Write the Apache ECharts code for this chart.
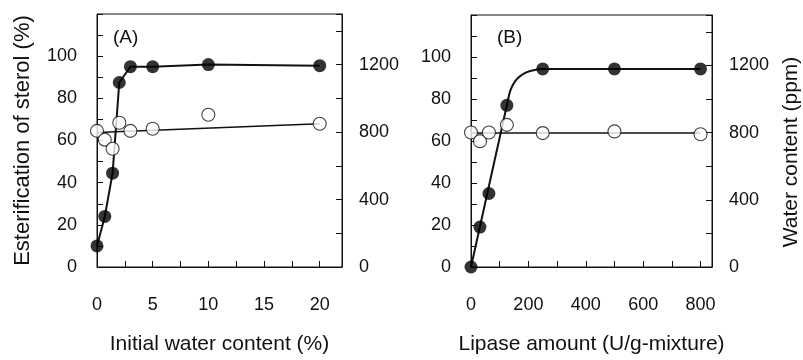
<!DOCTYPE html>
<html>
<head>
<meta charset="utf-8">
<script src="https://cdn.jsdelivr.net/npm/echarts@6/dist/echarts.min.js"></script>
<style>
  html, body { margin: 0; padding: 0; background: #fff; }
  #chart { width: 803px; height: 360px; }
</style>
</head>
<body>
<div id="chart"></div>
<script>
// Panel A: initial water content (%)
const waterPctA = [0, 0.7, 1.4, 2, 3, 5, 10, 20];
const esterA = [10, 24, 44.5, 87.5, 95, 95, 96, 95.5];
const ppmA = [807, 755, 701, 855, 807, 820, 903, 849];
const fitXA = [0, 20];
const fitPpmA = [797, 850];

// Panel B: lipase amount (U/g-mixture)
const lipaseB = [0, 31.25, 62.5, 125, 250, 500, 800];
const esterB = [0, 19, 35, 77, 94.3, 94.3, 94.3];
const ppmB = [801, 749, 801, 846, 797, 807, 790];
const fitXB = [0, 800];
const fitPpmB = [797, 797];
// fitted esterification curve in B
const curveXB = [0, 125, 137, 154, 177, 206, 250, 800];
const curveEsterB = [0, 77, 84, 88.5, 91.5, 93.3, 94.3, 94.3];

const pairs = (xs, ys) => xs.map((x, i) => [x, ys[i]]);

const FONT = 'Liberation Sans';
const INK = '#111';

const chart = echarts.init(document.getElementById('chart'));

const yLeft = (grid, name) => ({
  type: 'value',
  gridIndex: grid,
  min: 0, max: 120, interval: 10,
  position: 'left',
  name: name,
  nameLocation: 'middle',
  nameGap: 63,
  nameTextStyle: { fontFamily: FONT, fontSize: 22, color: INK },
  axisLine: { show: true, lineStyle: { color: INK, width: 1 } },
  axisTick: { show: true, inside: true, length: 6, lineStyle: { color: INK } },
  axisLabel: {
    margin: 20, fontFamily: FONT, fontSize: 18, color: INK, padding: [6, 0, 0, 0],
    formatter: v => (v % 20 === 0 && v <= 100 ? String(v) : '')
  },
  splitLine: { show: false }
});

const yRight = (grid, name) => ({
  type: 'value',
  gridIndex: grid,
  min: 0, max: 1500, interval: 200,
  position: 'right',
  name: name,
  nameLocation: 'middle',
  nameGap: 69,
  nameTextStyle: { fontFamily: FONT, fontSize: 21, color: INK, padding: [0, 22, 0, 0] },
  axisLine: { show: true, lineStyle: { color: INK, width: 1 } },
  axisTick: { show: true, inside: true, length: 6, lineStyle: { color: INK } },
  axisLabel: {
    margin: 17, fontFamily: FONT, fontSize: 18, color: INK, padding: [6, 0, 0, 0],
    formatter: v => (v % 400 === 0 && v <= 1200 ? String(v) : '')
  },
  splitLine: { show: false }
});

const xAxisOf = (grid, name, max, interval, step, last) => ({
  type: 'value',
  gridIndex: grid,
  min: 0, max: max, interval: interval,
  name: name,
  nameLocation: 'middle',
  nameGap: 67,
  nameTextStyle: { fontFamily: FONT, fontSize: 21, color: INK },
  axisLine: { show: true, onZero: false, lineStyle: { color: INK, width: 1 } },
  axisTick: { show: true, inside: true, length: 6, lineStyle: { color: INK } },
  axisLabel: {
    margin: 29, fontFamily: FONT, fontSize: 18, color: INK,
    formatter: v => (Math.abs(v % step) < 1e-9 && v <= last ? String(v) : '')
  },
  splitLine: { show: false }
});

const plainLine = (xi, yi, data, width, smooth) => ({
  type: 'line', xAxisIndex: xi, yAxisIndex: yi,
  data: data, showSymbol: false, symbol: 'none', smooth: smooth || false,
  lineStyle: { color: INK, width: width }, z: 2, silent: true
});

const openDots = (xi, yi, data) => ({
  type: 'scatter', xAxisIndex: xi, yAxisIndex: yi,
  data: data, symbol: 'circle', symbolSize: 13,
  itemStyle: { color: '#fff', borderColor: INK, borderWidth: 1.1 }, z: 3
});

const filledDots = (xi, yi, data) => ({
  type: 'scatter', xAxisIndex: xi, yAxisIndex: yi,
  data: data, symbol: 'circle', symbolSize: 13,
  itemStyle: { color: '#000' }, z: 4
});

chart.setOption({
  backgroundColor: '#fff',
  animation: false,
  title: [
    { text: '(A)', left: 113, top: 28, padding: 0, textStyle: { fontFamily: FONT, fontSize: 19, fontWeight: 'normal', color: INK } },
    { text: '(B)', left: 497, top: 28, padding: 0, textStyle: { fontFamily: FONT, fontSize: 19, fontWeight: 'normal', color: INK } }
  ],
  grid: [
    { left: 97, top: 14, width: 245, height: 261, show: true, borderColor: INK, borderWidth: 1, backgroundColor: 'transparent' },
    { left: 471, top: 15, width: 245, height: 259, show: true, borderColor: INK, borderWidth: 1, backgroundColor: 'transparent' }
  ],
  xAxis: [
    xAxisOf(0, 'Initial water content (%)', 22, 2.5, 5, 20),
    xAxisOf(1, 'Lipase amount (U/g-mixture)', 840, 100, 200, 800)
  ],
  yAxis: [
    yLeft(0, 'Esterification of sterol (%)'),
    yRight(0, ''),
    yLeft(1, ''),
    yRight(1, 'Water content (ppm)')
  ],
  series: [
    plainLine(0, 1, pairs(fitXA, fitPpmA), 1.5),
    plainLine(0, 0, pairs(waterPctA, esterA), 2),
    openDots(0, 1, pairs(waterPctA, ppmA)),
    filledDots(0, 0, pairs(waterPctA, esterA)),
    plainLine(1, 3, pairs(fitXB, fitPpmB), 1.5),
    plainLine(1, 2, pairs(curveXB, curveEsterB), 2, 0.35),
    openDots(1, 3, pairs(lipaseB, ppmB)),
    filledDots(1, 2, pairs(lipaseB, esterB))
  ]
});
</script>
</body>
</html>
